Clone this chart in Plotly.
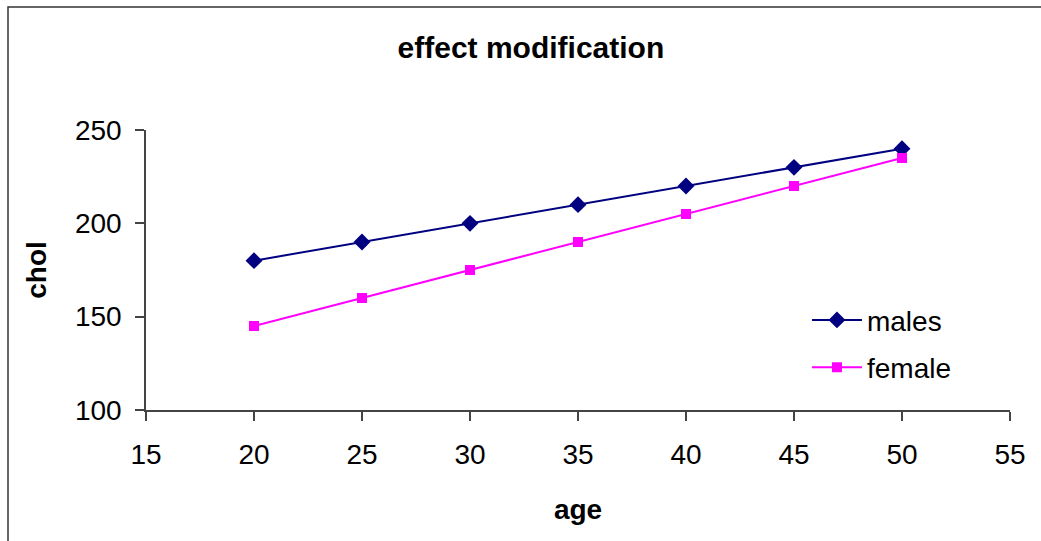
import plotly.graph_objects as go

age = [20, 25, 30, 35, 40, 45, 50]
males = [180, 190, 200, 210, 220, 230, 240]
female = [145, 160, 175, 190, 205, 220, 235]
x_ticks = [15, 20, 25, 30, 35, 40, 45, 50, 55]
y_ticks = [100, 150, 200, 250]

FONT = "Liberation Sans, Arial, sans-serif"

fig = go.Figure()
fig.add_trace(go.Scatter(
    x=age, y=males, name="males", mode="lines+markers", legendgroup="m",
    line=dict(color="#000080", width=2),
    marker=dict(symbol="diamond", size=13, color="#000080"),
))
fig.add_trace(go.Scatter(
    x=age, y=female, name="female", mode="lines+markers", legendgroup="f",
    line=dict(color="#FF00FF", width=2),
    marker=dict(symbol="square", size=10, color="#FF00FF"),
))

fig.update_layout(
    width=1041, height=541,
    margin=dict(l=146, r=31, t=130, b=131),
    paper_bgcolor="white", plot_bgcolor="white",
    font=dict(family=FONT, size=28, color="black"),
    title=dict(text="<b>effect modification</b>", x=0.51, xanchor="center",
               y=1 - 47 / 541, yanchor="middle", font=dict(size=30)),
    showlegend=True,
    legend=dict(x=0.765, y=0.41, xanchor="left", yanchor="top",
                bgcolor="rgba(0,0,0,0)", font=dict(size=28),
                itemwidth=50, traceorder="grouped", tracegroupgap=8),
    xaxis=dict(range=[15, 55], tickvals=x_ticks, showgrid=False, zeroline=False,
               showline=True, linecolor="#444", linewidth=1.5,
               ticks="outside", ticklen=9, tickcolor="#444", tickwidth=1.5,
               ticklabelstandoff=10,
               title=dict(text="<b>age</b>", standoff=30, font=dict(size=28))),
    yaxis=dict(range=[100, 250], tickvals=y_ticks, showgrid=False, zeroline=False,
               showline=True, linecolor="#444", linewidth=1.5,
               ticks="outside", ticklen=9, tickcolor="#444", tickwidth=1.5,
               ticklabelstandoff=8,
               title=dict(text="<b>chol</b>", standoff=20, font=dict(size=28))),
    shapes=[dict(type="rect", xref="paper", yref="paper",
                 x0=(8 - 146) / 864, x1=1.2, y0=-0.7, y1=(410 - 7) / 280,
                 line=dict(color="#333", width=1.5), fillcolor="rgba(0,0,0,0)",
                 layer="below")],
)

fig.write_html("out.html")
